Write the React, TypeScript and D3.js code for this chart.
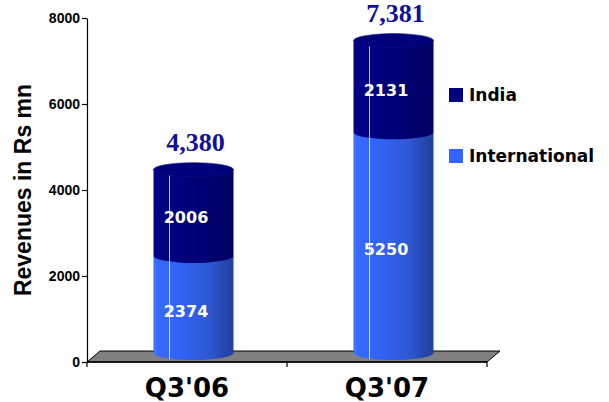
import * as d3 from "d3";
import { useEffect, useRef } from "react";

const categories = ["Q3'06", "Q3'07"];
const international = [2374, 5250];
const india = [2006, 2131];
const totals = ["4,380", "7,381"];
const yTicks = [0, 2000, 4000, 6000, 8000];
const seriesNames = ["India", "International"];

const W = 609;
const H = 402;

const App = () => {
  const ref = useRef<SVGSVGElement | null>(null);

  useEffect(() => {
    if (!ref.current) return;
    document.body.style.margin = "0";

    const svg = d3.select(ref.current);
    svg.selectAll("*").remove();

    const margin = { top: 18, right: 122, bottom: 40, left: 87 };
    const depth = { dx: 13, dy: 11 };

    const y = d3
      .scaleLinear()
      .domain([0, 8000])
      .range([H - margin.bottom, margin.top]);

    const x = d3
      .scaleBand<string>()
      .domain(categories)
      .range([margin.left, W - margin.right])
      .paddingInner(0)
      .paddingOuter(0);

    const defs = svg.append("defs");
    const grad = (id: string, stops: [number, string][]) => {
      const g = defs
        .append("linearGradient")
        .attr("id", id)
        .attr("x1", "0%")
        .attr("x2", "100%")
        .attr("y1", "0%")
        .attr("y2", "0%");
      stops.forEach(([o, c]) => g.append("stop").attr("offset", `${o}%`).attr("stop-color", c));
    };
    grad("gIntl", [
      [0, "#3a6bff"],
      [20, "#3366ff"],
      [65, "#2e5ad8"],
      [100, "#22409c"],
    ]);
    grad("gIndia", [
      [0, "#000086"],
      [50, "#000078"],
      [100, "#000062"],
    ]);

    // floor
    const y0 = y(0);
    const xL = margin.left;
    const xR = W - margin.right;
    svg
      .append("path")
      .attr(
        "d",
        `M${xL},${y0} L${xL + depth.dx},${y0 - depth.dy} L${xR + depth.dx},${y0 - depth.dy} L${xR},${y0} Z`
      )
      .attr("fill", "#808080")
      .attr("stroke", "#000")
      .attr("stroke-width", 1);

    // y axis
    svg
      .append("g")
      .attr("transform", `translate(${xL},0)`)
      .call(d3.axisLeft(y).tickValues(yTicks).tickSize(5).tickSizeOuter(0).tickFormat(d3.format("d")))
      .call((g) => {
        g.select(".domain").attr("stroke", "#000").attr("stroke-width", 1.2);
        g.selectAll(".tick line").attr("stroke", "#000").attr("stroke-width", 1.2);
        g.selectAll(".tick text")
          .attr("fill", "#000")
          .attr("x", -7)
          .style("font-family", "'Liberation Sans', Arial, sans-serif")
          .style("font-weight", "bold")
          .style("font-size", "14px");
      });

    // x axis line + boundary ticks
    svg
      .append("line")
      .attr("x1", xL)
      .attr("x2", xR)
      .attr("y1", y0)
      .attr("y2", y0)
      .attr("stroke", "#000")
      .attr("stroke-width", 1.5);
    const bounds = [...categories.map((c) => x(c)!), xR];
    svg
      .append("g")
      .selectAll("line")
      .data(bounds)
      .join("line")
      .attr("x1", (d) => d)
      .attr("x2", (d) => d)
      .attr("y1", y0)
      .attr("y2", y0 + 5)
      .attr("stroke", "#000")
      .attr("stroke-width", 1.2);

    // category labels
    svg
      .append("g")
      .selectAll("text")
      .data(categories)
      .join("text")
      .attr("x", (d) => x(d)! + x.bandwidth() / 2)
      .attr("y", H - 5)
      .attr("text-anchor", "middle")
      .attr("fill", "#000")
      .style("font-family", "'DejaVu Sans', Verdana, sans-serif")
      .style("font-weight", "bold")
      .style("font-size", "26px")
      .text((d) => d);

    // y label
    svg
      .append("text")
      .attr("transform", `translate(31,${(margin.top + y0) / 2}) rotate(-90)`)
      .attr("text-anchor", "middle")
      .attr("fill", "#000")
      .style("font-family", "'Liberation Sans', Arial, sans-serif")
      .style("font-weight", "bold")
      .style("font-size", "23px")
      .text("Revenues in Rs mn");

    // cylinders
    const barW = x.bandwidth() * 0.4;
    const rx = barW / 2;
    const ry = 7;
    const lift = 4;
    const baseY = y0 - 9;

    const body = (cx: number, yTop: number, yBot: number) =>
      `M${cx - rx},${yTop} L${cx - rx},${yBot} A${rx},${ry} 0 0 0 ${cx + rx},${yBot} L${cx + rx},${yTop} Z`;

    categories.forEach((c, i) => {
      const cx = x(c)! + x.bandwidth() / 2 + depth.dx / 2;
      const lx = x(c)! + x.bandwidth() / 2 - 1;
      const splitY = y(international[i]) - lift;
      const topY = y(international[i] + india[i]) - lift;
      const g = svg.append("g");

      g.append("path").attr("d", body(cx, splitY, baseY)).attr("fill", "url(#gIntl)");
      g.append("path").attr("d", body(cx, topY, splitY)).attr("fill", "url(#gIndia)");
      g.append("ellipse")
        .attr("cx", cx)
        .attr("cy", topY)
        .attr("rx", rx)
        .attr("ry", ry)
        .attr("fill", "#00007a")
        .attr("stroke", "#0c0c86")
        .attr("stroke-width", 0.6);

      // highlight
      g.append("line")
        .attr("x1", cx - rx + barW * 0.2)
        .attr("x2", cx - rx + barW * 0.2)
        .attr("y1", topY + ry - 1)
        .attr("y2", baseY + ry - 1)
        .attr("stroke", "#ffffff")
        .attr("stroke-opacity", 0.75)
        .attr("stroke-width", 1);
      g.append("line")
        .attr("x1", cx - rx + 2)
        .attr("x2", cx - rx + 2)
        .attr("y1", splitY + ry)
        .attr("y2", baseY + ry - 2)
        .attr("stroke", "#5a86ff")
        .attr("stroke-opacity", 0.6)
        .attr("stroke-width", 1);

      const valStyle = (t: d3.Selection<SVGTextElement, unknown, null, undefined>) =>
        t
          .attr("text-anchor", "middle")
          .attr("fill", "#fff")
          .style("font-family", "'DejaVu Sans', Verdana, sans-serif")
          .style("font-weight", "bold")
          .style("font-size", "16px");

      g.append("text")
        .attr("x", lx)
        .attr("y", (y(0) + y(international[i])) / 2 + 6)
        .call(valStyle)
        .text(String(international[i]));
      g.append("text")
        .attr("x", lx)
        .attr("y", (y(international[i]) + y(international[i] + india[i])) / 2 + 6)
        .call(valStyle)
        .text(String(india[i]));

      g.append("text")
        .attr("x", cx + 2)
        .attr("y", topY - ry - 12)
        .attr("text-anchor", "middle")
        .attr("fill", "#10109c")
        .style("font-family", "'Liberation Serif', 'Times New Roman', serif")
        .style("font-weight", "bold")
        .style("font-size", "26px")
        .text(totals[i]);
    });

    // legend
    const legendColors = ["#000080", "#3366ff"];
    const leg = svg
      .append("g")
      .selectAll("g")
      .data(seriesNames)
      .join("g")
      .attr("transform", (_, i) => `translate(449,${88 + i * 61})`);
    leg
      .append("rect")
      .attr("width", 14)
      .attr("height", 14)
      .attr("fill", (_, i) => legendColors[i]);
    leg
      .append("text")
      .attr("x", 20)
      .attr("y", 13)
      .attr("fill", "#000")
      .style("font-family", "'DejaVu Sans', Verdana, sans-serif")
      .style("font-weight", "bold")
      .style("font-size", "17px")
      .text((d) => d);
  }, []);

  return <svg ref={ref} width={W} height={H} style={{ display: "block", background: "#fff" }} />;
};

export default App;
